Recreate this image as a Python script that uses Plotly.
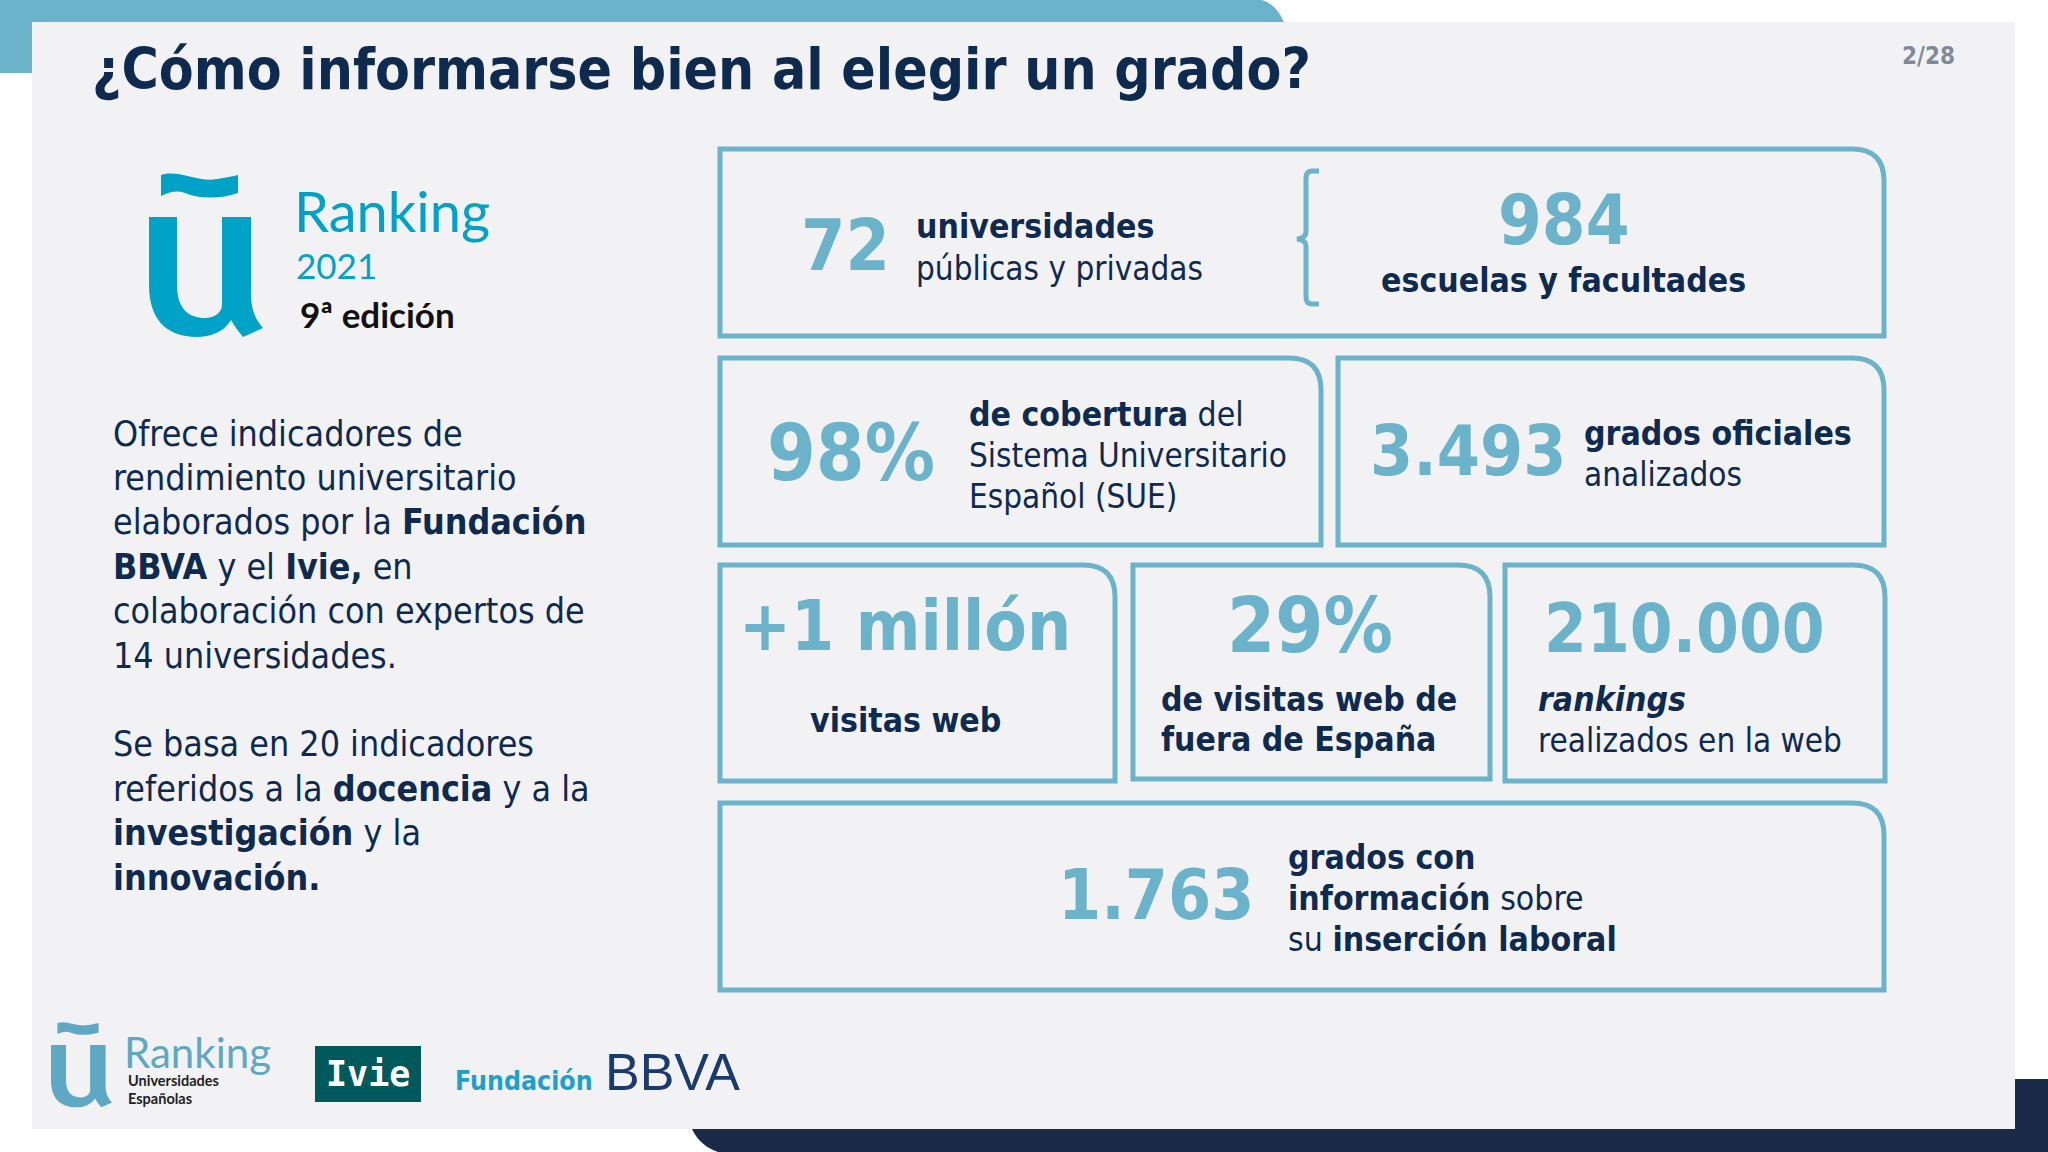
import plotly.graph_objects as go

TITLE = "¿Cómo informarse bien al elegir un grado?"
PAGE = "2/28"
BODY = ["Ofrece indicadores de", "rendimiento universitario",
        "elaborados por la <b>Fundación</b>", "<b>BBVA</b> y el <b>Ivie,</b> en",
        "colaboración con expertos de", "14 universidades.",
        "Se basa en 20 indicadores", "referidos a la <b>docencia</b> y a la",
        "<b>investigación</b> y la", "<b>innovación.</b>"]
BIG_NUMBERS = ["72", "984", "98%", "3.493", "+1 millón", "29%", "210.000", "1.763"]
LABELS_A = ["<b>universidades</b>", "públicas y privadas"]
LABELS_B = ["<b>escuelas y facultades</b>"]
LABELS_C = ["<b>de cobertura</b> del", "Sistema Universitario", "Español (SUE)"]
LABELS_D = ["<b>grados oficiales</b>", "analizados"]
LABELS_E = ["<b>visitas web</b>"]
LABELS_F = ["<b>de visitas web de</b>", "<b>fuera de España</b>"]
LABELS_G = ["<b><i>rankings</i></b>", "realizados en la web"]
LABELS_H = ["<b>grados con</b>", "<b>información</b> sobre", "su <b>inserción laboral</b>"]
LOGO_TEXT = ["Ranking", "2021", "9ª edición"]
FOOT_TEXT = ["Ranking", "Universidades", "Españolas", "Ivie", "Fundación", "BBVA"]

W, H = 2048, 1152
TEAL = "#6AB3CB"
NAVY = "#0F2A4F"
DARK = "#1C2A4A"
PANEL = "#F2F2F4"
LOGO = "#00A3C7"
FOOTLOGO = "#5FA8C4"
FONT = "DejaVu Sans Condensed, DejaVu Sans, sans-serif"
LOGOFONT = "Lato, Noto Sans, sans-serif"

shapes, notes = [], []


def rect(x0, y0, x1, y1, color):
    shapes.append(dict(type="rect", x0=x0, y0=y0, x1=x1, y1=y1, fillcolor=color,
                       line=dict(width=0), layer="below"))


def path(d, fill=None, line=None, width=0):
    shapes.append(dict(type="path", path=d, fillcolor=fill or "rgba(0,0,0,0)",
                       line=dict(color=line or "rgba(0,0,0,0)", width=width), layer="below"))


def text(x, y, s, size, color=NAVY, anchor="left", family=FONT):
    notes.append(dict(x=x, y=y, text=s, xref="x", yref="y", showarrow=False, xanchor=anchor,
                      yanchor="middle", align=anchor, font=dict(size=size, color=color, family=family)))


def box(x0, y0, x1, y1, r=32):
    path(f"M{x0},{y0} L{x1-r},{y0} Q{x1},{y0} {x1},{y0+r} L{x1},{y1} L{x0},{y1} Z",
         line=TEAL, width=5)


def u_logo(x0, y0, sx, sy, color):
    def pts(s):
        out = []
        for tok in s.split():
            if "," in tok:
                a, b = tok.split(",")
                out.append(f"{x0+float(a)*sx:.1f},{y0+float(b)*sy:.1f}")
            else:
                out.append(tok)
        return " ".join(out)
    path(pts("M 0,44 L 28,44 L 28,112 C 28,137 41,145 56,145 C 66,145 73,139 73,132 L 73,44 L 102,44 "
             "L 102,122 C 102,137 107,147 114,155 L 94,164 C 89,158 85,152 82,147 "
             "C 75,159 61,164 48,164 C 16,164 0,145 0,112 Z"), fill=color)
    path(pts("M 12,2 C 30,-4 50,10 68,6 C 76,5 84,3 89,2 L 89,20 C 72,26 50,26 36,20 "
             "C 28,17 20,19 12,23 Z"), fill=color)


# slide frame
path("M0,0 L1262,0 Q1276,4 1284,22 L32,22 L32,73 L0,73 Z", fill=TEAL)
path("M692,1129 L2015,1129 L2015,1079 L2048,1079 L2048,1152 L718,1152 Q700,1146 692,1129 Z", fill=DARK)
rect(32, 22, 2015, 1129, PANEL)

# boxes
box(720, 149, 1884, 336)
box(720, 358, 1321, 545)
box(1338, 358, 1884, 545)
box(720, 565, 1115, 781)
box(1133, 565, 1490, 779)
box(1505, 565, 1885, 781)
box(720, 803, 1884, 990)

# brace
path("M1319,171 L1312,171 Q1306,171 1306,178 L1306,232 Q1306,238 1297,239 Q1306,240 1306,246 "
     "L1306,297 Q1306,304 1312,304 L1319,304", line=TEAL, width=5)

# title
text(90, 69, f"<b>{TITLE}</b>", 56.5)
text(1957, 56, f"<b>{PAGE}</b>", 24, color="#7F8A99", anchor="right")

# body
for s, y in zip(BODY, [433, 477.5, 521.5, 566, 610, 655, 743, 788, 832.5, 877]):
    text(111, y, s, 35.5)

# big numbers
for s, x, y, size in zip(BIG_NUMBERS,
                         [845, 1563, 851, 1468, 905, 1310, 1684, 1156],
                         [245, 220, 453, 451, 626, 625, 628, 895],
                         [71, 70, 78, 69, 69, 77, 68.5, 69]):
    text(x, y, f"<b>{s}</b>", size, color=TEAL, anchor="center")

LAB = 33.5
for lines, x, ys, anc in [
    (LABELS_A, 914, [226, 268], "left"),
    (LABELS_B, 1563, [280], "center"),
    (LABELS_C, 967, [414, 455, 496], "left"),
    (LABELS_D, 1582, [433, 474], "left"),
    (LABELS_E, 905, [720], "center"),
    (LABELS_F, 1159, [699, 739], "left"),
    (LABELS_G, 1536, [699, 740], "left"),
    (LABELS_H, 1286, [857, 898, 939], "left"),
]:
    for s, y in zip(lines, ys):
        text(x, y, s, LAB if "<b>" in s else 33, anchor=anc)

# main logo
u_logo(149, 173, 1.0, 1.0, LOGO)
text(292, 210, LOGO_TEXT[0], 56, color=LOGO, family=LOGOFONT)
text(294, 265, LOGO_TEXT[1], 35, color=LOGO, family=LOGOFONT)
text(298, 314, f"<b>{LOGO_TEXT[2]}</b>", 35, color="#111111", family=LOGOFONT)

# footer logos
u_logo(51, 1022, 0.535, 0.52, FOOTLOGO)
text(122, 1052, FOOT_TEXT[0], 42, color=FOOTLOGO, family=LOGOFONT)
text(126, 1080, f"<b>{FOOT_TEXT[1]}</b>", 14.5, color="#222222", family=LOGOFONT)
text(126, 1098, f"<b>{FOOT_TEXT[2]}</b>", 14.5, color="#222222", family=LOGOFONT)
rect(315, 1046, 421, 1102, "#005A5B")
text(368, 1074, f"<b>{FOOT_TEXT[3]}</b>", 35, color="white", anchor="center", family="DejaVu Sans Mono")
text(453, 1080, f"<b>{FOOT_TEXT[4]}</b>", 26.5, color="#1F9FCB", family=FONT)
text(603, 1072, FOOT_TEXT[5], 52, color="#1B3A6D", family="Liberation Sans")

fig = go.Figure()
fig.update_layout(width=W, height=H, margin=dict(l=0, r=0, t=0, b=0), showlegend=False,
                  paper_bgcolor="white", plot_bgcolor="white", shapes=shapes, annotations=notes,
                  xaxis=dict(range=[0, W], visible=False, fixedrange=True),
                  yaxis=dict(range=[H, 0], visible=False, fixedrange=True))
fig.write_html("out.html", config=dict(displayModeBar=False),
               post_script="document.body.style.margin='0';document.body.style.overflow='hidden';")
